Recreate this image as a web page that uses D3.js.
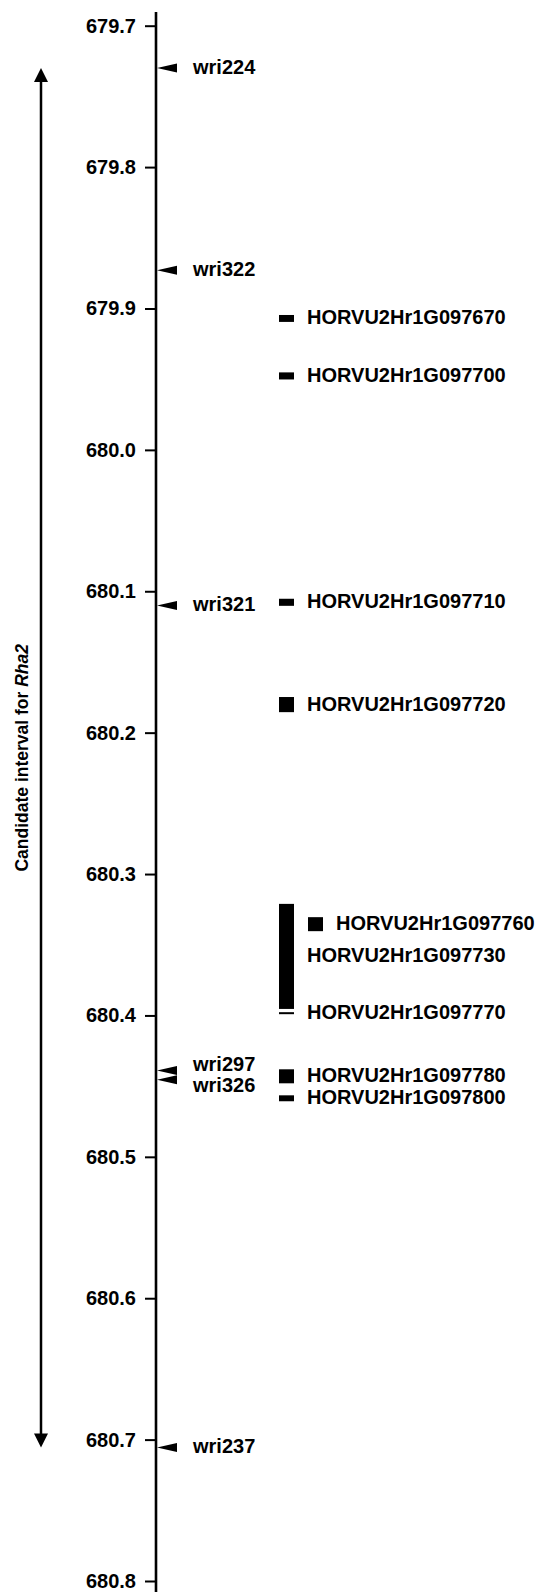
<!DOCTYPE html>
<html>
<head>
<meta charset="utf-8">
<script src="https://cdn.jsdelivr.net/npm/d3@7"></script>
<style>
  body { margin: 0; background: #fff; }
  text { font-family: "Liberation Sans", Arial, sans-serif; font-weight: bold; }
</style>
</head>
<body>
<div id="map"></div>
<script>

// physical position, Mb
var tickValues = [679.7, 679.8, 679.9, 680.0, 680.1, 680.2, 680.3, 680.4, 680.5, 680.6, 680.7, 680.8];

var markerNames = ['wri224', 'wri322', 'wri321', 'wri297', 'wri326', 'wri237'];
var markerPos   = [679.730, 679.873, 680.110, 680.439, 680.4455, 680.7055];

var geneNames = ['HORVU2Hr1G097670', 'HORVU2Hr1G097700', 'HORVU2Hr1G097710', 'HORVU2Hr1G097720',
  'HORVU2Hr1G097730', 'HORVU2Hr1G097760', 'HORVU2Hr1G097770', 'HORVU2Hr1G097780', 'HORVU2Hr1G097800'];
var geneStart = [679.9046, 679.9452, 680.1053, 680.1748, 680.3211, 680.3305, 680.3977, 680.4381, 680.4565];
var geneEnd   = [679.9095, 679.9502, 680.1103, 680.1855, 680.3954, 680.3404, 680.3991, 680.4480, 680.4607];

var width = 536, height = 1592;
var axisX = 156;
var fontSize = 20;

var svg = d3.select('#map').append('svg')
  .attr('width', width)
  .attr('height', height);

var y = d3.scaleLinear()
  .domain([679.7, 680.8])
  .range([25.7, 1581]);

// axis
var yAxis = d3.axisLeft(y)
  .tickValues(tickValues)
  .tickFormat(d3.format('.1f'))
  .tickSize(11)
  .tickSizeOuter(0)
  .tickPadding(9);

var ax = svg.append('g')
  .attr('transform', 'translate(' + axisX + ',0)')
  .call(yAxis);
ax.select('.domain').remove();
ax.selectAll('.tick line').attr('stroke', '#000').attr('stroke-width', 2);
ax.selectAll('.tick text')
  .attr('fill', '#000')
  .style('font-size', fontSize + 'px')
  .style('font-family', '"Liberation Sans", Arial, sans-serif')
  .style('font-weight', 'bold');

svg.append('line')
  .attr('x1', axisX).attr('x2', axisX)
  .attr('y1', y(679.6903)).attr('y2', height)
  .attr('stroke', '#000')
  .attr('stroke-width', 2.6);

// markers
var markers = markerNames.map(function(n, i) { return { name: n, pos: markerPos[i] }; });

svg.selectAll('path.marker')
  .data(markers)
  .enter().append('path')
  .attr('class', 'marker')
  .attr('d', function(d) {
    var yy = y(d.pos);
    return 'M' + (axisX + 1) + ',' + yy + 'L' + (axisX + 21) + ',' + (yy - 4.5) + 'L' + (axisX + 21) + ',' + (yy + 4.5) + 'Z';
  })
  .attr('fill', '#000');

// spread labels that collide
function dodge(ys, gap) {
  var out = ys.slice();
  for (var i = 1; i < out.length; i++) {
    if (out[i] - out[i - 1] < gap) {
      var mid = (out[i] + out[i - 1]) / 2;
      out[i - 1] = mid - gap / 2;
      out[i] = mid + gap / 2;
    }
  }
  return out;
}

var markerLabelY = dodge(markers.map(function(d) { return y(d.pos) - 1; }), 21);

svg.selectAll('text.mlabel')
  .data(markers)
  .enter().append('text')
  .attr('class', 'mlabel')
  .attr('x', axisX + 37)
  .attr('y', function(d, i) { return markerLabelY[i]; })
  .attr('dominant-baseline', 'central')
  .style('font-size', fontSize + 'px')
  .text(function(d) { return d.name; });

// genes, overlapping ones go to the next track
var genes = geneNames.map(function(n, i) { return { name: n, s: geneStart[i], e: geneEnd[i] }; });
var trackEnds = [];
genes.forEach(function(g) {
  var t = 0;
  while (trackEnds[t] !== undefined && trackEnds[t] > g.s) t++;
  g.track = t;
  trackEnds[t] = g.e;
});

var geneX = d3.scaleLinear().domain([0, 1]).range([279, 308]);

svg.selectAll('rect.gene')
  .data(genes)
  .enter().append('rect')
  .attr('class', 'gene')
  .attr('x', function(d) { return geneX(d.track); })
  .attr('y', function(d) { return y(d.s); })
  .attr('width', 15)
  .attr('height', function(d) { return Math.max(2, y(d.e) - y(d.s)); })
  .attr('fill', '#000');

svg.selectAll('text.glabel')
  .data(genes)
  .enter().append('text')
  .attr('class', 'glabel')
  .attr('x', function(d) { return geneX(d.track) + 28; })
  .attr('y', function(d) { return (y(d.s) + y(d.e)) / 2 - 1; })
  .attr('dominant-baseline', 'central')
  .style('font-size', fontSize + 'px')
  .text(function(d) { return d.name; });

// candidate interval arrow
var yTop = y(markerPos[0]), yBottom = y(markerPos[markerPos.length - 1]);
var arrowX = 41;

svg.append('line')
  .attr('x1', arrowX).attr('x2', arrowX)
  .attr('y1', yTop + 10).attr('y2', yBottom - 10)
  .attr('stroke', '#000')
  .attr('stroke-width', 2.5);

svg.append('path')
  .attr('d', 'M' + arrowX + ',' + yTop + 'L' + (arrowX - 7) + ',' + (yTop + 14) + 'L' + (arrowX + 7) + ',' + (yTop + 14) + 'Z')
  .attr('fill', '#000');
svg.append('path')
  .attr('d', 'M' + arrowX + ',' + yBottom + 'L' + (arrowX - 7) + ',' + (yBottom - 14) + 'L' + (arrowX + 7) + ',' + (yBottom - 14) + 'Z')
  .attr('fill', '#000');

var title = svg.append('text')
  .attr('transform', 'translate(22,' + ((yTop + yBottom) / 2) + ') rotate(-90)')
  .attr('text-anchor', 'middle')
  .attr('dominant-baseline', 'central')
  .style('font-size', '17.5px');
title.append('tspan').text('Candidate interval for ');
title.append('tspan').style('font-style', 'italic').text('Rha2');

</script>
</body>
</html>
